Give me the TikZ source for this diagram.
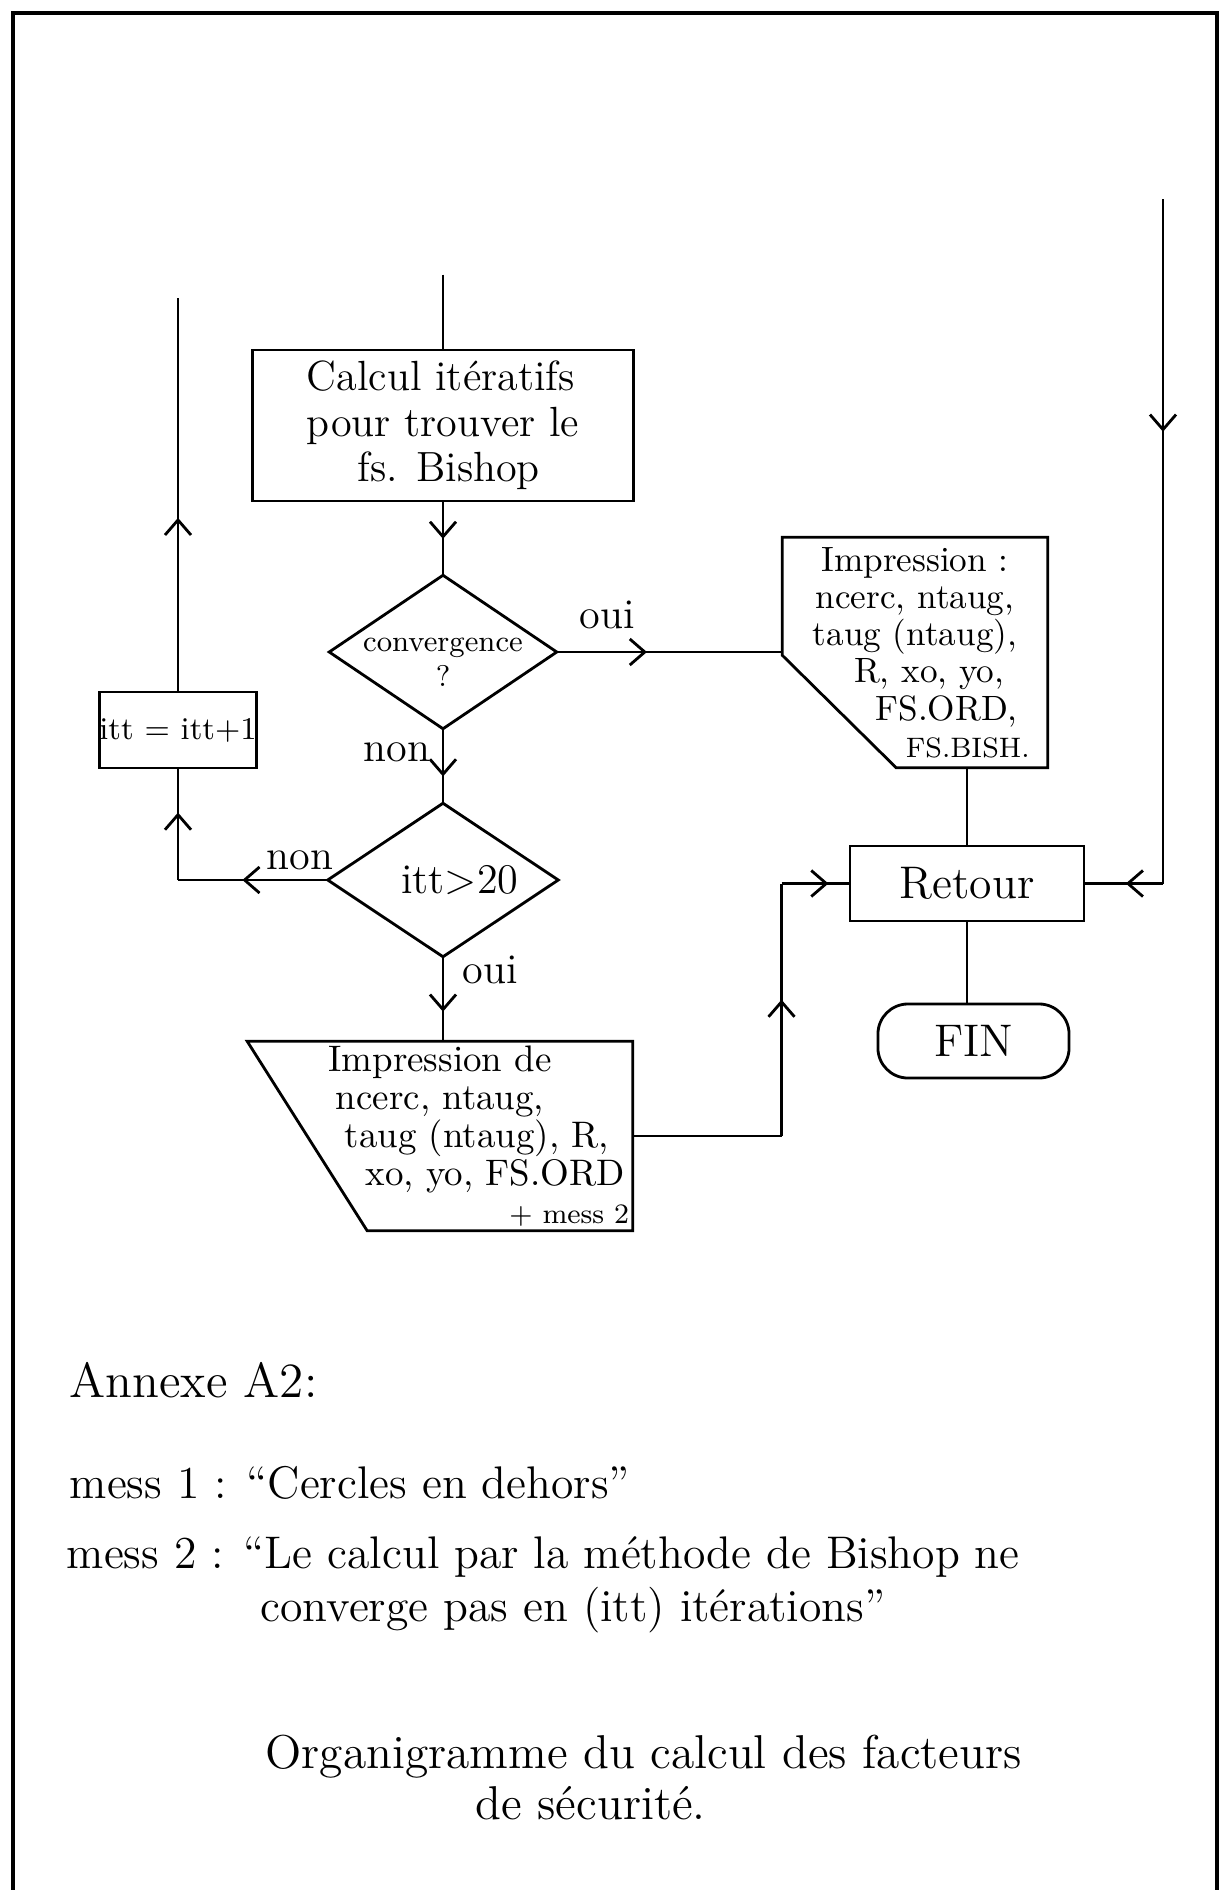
\documentclass[tikz,border=0pt]{standalone}
\usepackage{tikz}
\usetikzlibrary{arrows.meta,calc,decorations.markings}

\tikzset{
  flow/.style={line width=0.8pt},
  tipat/.style={postaction={decorate}, decoration={markings,
      mark=at position #1 with {\arrow{Straight Barb[length=1.5mm,width=2.6mm]}}}},
  box/.style={draw, flow, inner sep=0pt, align=center},
  shell/.style={inner sep=0pt, align=center},
  note/.style={anchor=west, inner sep=0pt},
}

\begin{document}
\begin{tikzpicture}[x=0.01cm, y=-0.01cm, >=Stealth, font=\fontsize{12}{13}\selectfont]
  \useasboundingbox (0,0) rectangle (1222,1890);
  % page frame
  \draw[line width=1.2pt] (13,1890) -- (13,13) -- (1217,13) -- (1217,1890);

  % boxes
  \node[box, minimum width=3.81cm, minimum height=1.51cm, align=left] (calc) at (443,425.5)
    {Calcul itératifs\\pour trouver le\\\hspace*{1.2em}fs. Bishop};
  \node[shell, minimum width=2.26cm, minimum height=1.52cm, font=\fontsize{8.5}{10}\selectfont] (d1) at (443,652)
    {\rule{0pt}{2.6ex}convergence\\?};
  \node[shell, minimum width=2.29cm, minimum height=1.52cm] (d2) at (443,880) {\hspace*{0.8em}itt>20};
  \foreach \d in {d1,d2}
    \draw[flow] (\d.north) -- (\d.east) -- (\d.south) -- (\d.west) -- cycle;
  \node[box, minimum width=1.53cm, minimum height=0.76cm, font=\fontsize{9}{10}\selectfont] (itt) at (178,730) {itt = itt+1};

  % printing, right (cut corner)
  \node[shell, minimum width=2.64cm, minimum height=2.29cm, font=\fontsize{10}{10.6}\selectfont] (imp1) at (915,652.5)
    {Impression :\\ncerc, ntaug,\\taug (ntaug),\\\hspace*{0.8em}R, xo, yo,\\\hspace*{1.8em}FS.ORD,\\\hspace*{3em}{\footnotesize FS.BISH.}};
  \draw[flow] (imp1.north west) -- (imp1.north east) -- (imp1.south east)
    -- ($(imp1.south west)+(114,0)$) -- ($(imp1.north west)+(0,118)$) -- cycle;

  % printing, bottom (slanted left side)
  \node[shell, minimum width=3.84cm, minimum height=1.88cm, font=\fontsize{10.5}{10.8}\selectfont] (imp2) at (440,1136)
    {Impression de\\ncerc, ntaug,\\\hspace*{2em}taug (ntaug), R,\\\hspace*{3em}xo, yo, FS.ORD\\\hspace*{7em}{\footnotesize + mess 2}};
  \draw[flow] (imp2.north west) -- (imp2.north east) -- (imp2.south east)
    -- ($(imp2.south west)+(120,0)$) -- cycle;

  \node[box, minimum width=2.34cm, minimum height=0.75cm, font=\fontsize{13}{14}\selectfont] (retour) at (967,883.5) {Retour};
  \node[box, rounded corners=3mm, minimum width=1.91cm, minimum height=0.74cm, font=\fontsize{13}{14}\selectfont] (fin) at (973.5,1041) {FIN};

  % loose ends and corners
  \coordinate (entry) at ($(calc.north)+(0,-74)$);
  \coordinate (rtop) at (1163,199);
  \coordinate (ltop) at (178,298);
  \coordinate (lcorner) at (itt.south |- d2.west);
  \coordinate (rcorner) at (rtop |- retour.east);
  \coordinate (ucorner) at ($(retour.west)+(-67,0)$);
  \coordinate (bcorner) at (ucorner |- imp2.east);

  % connectors
  \draw[flow] (entry) -- (calc.north);
  \draw[flow, tipat=0.5] (calc.south) -- (d1.north);
  \draw[flow, tipat=0.4] (d1.east) -- (d1.east -| imp1.west);
  \draw[flow, tipat=0.64] (d1.south) -- (d2.north);
  \draw[flow, tipat=0.57] (d2.west) -- (lcorner);
  \draw[flow, tipat=0.61] (lcorner) -- (itt.south);
  \draw[flow, tipat=0.44] (itt.north) -- (ltop);
  \draw[flow, tipat=0.65] (d2.south) -- (d2.south |- imp2.north);
  \draw[flow] (imp2.east) -- (bcorner);
  \draw[flow, tipat=0.54] (bcorner) -- (ucorner);
  \draw[flow, tipat=0.7] (ucorner) -- (retour.west);
  \draw[flow] (retour.north |- imp1.south) -- (retour.north);
  \draw[flow] (retour.south) -- (retour.south |- fin.north);
  \draw[flow, tipat=0.34] (rtop) -- (rcorner);
  \draw[flow, tipat=0.48] (rcorner) -- (retour.east);

  % branch labels
  \node (oui1) at (607,615) {oui};
  \node (non1) at (397,752) {non};
  \node (non2) at (300,860) {non};
  \node (oui2) at (490,970) {oui};

  % notes under the chart
  \node[note, font=\fontsize{14}{15}\selectfont] (annexe) at (69,1380) {Annexe A2:};
  \node[note, font=\fontsize{13}{14}\selectfont] (mess1) at (69,1483) {mess 1 : ``Cercles en dehors''};
  \node[note, font=\fontsize{13}{14}\selectfont] (mess2) at (66,1557) {mess 2 : ``Le calcul par la méthode de Bishop ne};
  \node[note, font=\fontsize{13}{14}\selectfont] (mess2b) at (260,1610) {converge pas en (itt) itérations''};
  \node[note, font=\fontsize{13.5}{14}\selectfont] (title1) at (265,1757) {Organigramme du calcul des facteurs};
  \node[note, font=\fontsize{13.5}{14}\selectfont] (title2) at (475,1803) {de sécurité.};
\end{tikzpicture}
\end{document}
